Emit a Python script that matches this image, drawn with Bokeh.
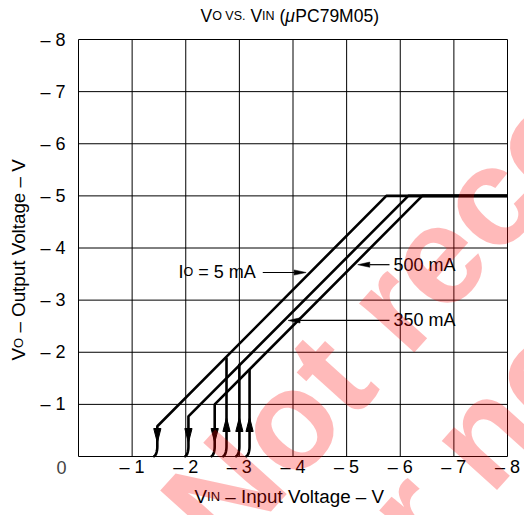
import math
import numpy as np
from bokeh.plotting import figure
from bokeh.models import Range1d, FixedTicker, Label
from bokeh.embed import file_html
from bokeh.resources import INLINE

# ---------------- data ----------------
load_currents = ["5 mA", "350 mA", "500 mA"]
vo_regulated = -5.0
vin_axis_end = -8.0
vin_saturation = [-5.74, -6.15, -6.41]   # Vin where Vo reaches -5 V
vin_dropout = [-1.47, -2.05, -2.54]      # Vin where output collapses (Vin decreasing)
vo_dropout = [-0.58, -0.77, -1.00]
vin_recover = [-2.76, -3.00, -3.19]      # Vin where output recovers (Vin increasing)
vo_recover = [-1.90, -1.78, -1.67]
callout_vo = [-3.53, -2.61, -3.68]       # Vo level where each callout arrow points
x_ticks = [-1, -2, -3, -4, -5, -6, -7, -8]
y_ticks = [-1, -2, -3, -4, -5, -6, -7, -8]
x_tick_labels = ["– 1", "– 2", "– 3", "– 4", "– 5", "– 6", "– 7", "– 8"]
y_tick_labels = ["– 1", "– 2", "– 3", "– 4", "– 5", "– 6", "– 7", "– 8"]

# ---------------- layout (canvas pixels) ----------------
W, H = 524, 515
FRAME_L, FRAME_T, FRAME_W, FRAME_H = 78, 39, 429, 417
X0, X1 = 0.0, -8.0
Y0, Y1 = 0.0, -8.0
PX_X = FRAME_W / abs(X1 - X0)
PX_Y = FRAME_H / abs(Y1 - Y0)
FONT = "Liberation Sans"
BASE_FIX = 7  # label baseline correction, px


def data_x(px):
    return X0 + (px - FRAME_L) / FRAME_W * (X1 - X0)


def data_y(py):
    return Y0 + (FRAME_T + FRAME_H - py) / FRAME_H * (Y1 - Y0)


p = figure(width=W, height=H, min_border=0, title=None,
           x_range=Range1d(data_x(0), data_x(W)), y_range=Range1d(data_y(H), data_y(0)),
           output_backend="svg", toolbar_location=None, tools="")
p.background_fill_color = "white"
p.border_fill_color = "white"
p.outline_line_color = None
p.grid.visible = False

for ax, ticks, labels in ((p.xaxis, x_ticks, x_tick_labels), (p.yaxis, y_ticks, y_tick_labels)):
    ax.fixed_location = 0
    ax.ticker = FixedTicker(ticks=ticks)
    ax.major_label_overrides = dict(zip(ticks, labels))
    ax.axis_line_color = None
    ax.major_tick_line_color = None
    ax.minor_tick_line_color = None
    ax.major_tick_out = 0
    ax.major_tick_in = 0
    ax.major_label_text_font = FONT
    ax.major_label_text_font_size = "18px"
    ax.major_label_text_color = "black"
p.xaxis.major_label_standoff = 0
p.yaxis.major_label_standoff = 13

# frame box and grid
p.quad(left=[X0], right=[X1], bottom=[Y0], top=[Y1], fill_color=None,
       line_color="black", line_width=1)
gx = x_ticks[:-1]
gy = y_ticks[:-1]
p.segment(x0=gx, y0=[Y0] * len(gx), x1=gx, y1=[Y1] * len(gx), line_color="black", line_width=1)
p.segment(x0=[X0] * len(gy), y0=gy, x1=[X1] * len(gy), y1=gy, line_color="black", line_width=1)

# ---------------- curves ----------------
HOOK_W, HOOK_H = 4 / PX_X, 10 / PX_Y
hook_t = np.linspace(0, np.pi / 2, 9)


def hook(x0):
    hx = x0 + HOOK_W * (1 - np.cos(hook_t))
    hy = -HOOK_H * (1 - np.sin(hook_t))
    return list(hx), list(hy)


xs, ys = [], []
for i in range(len(load_currents)):
    hx, hy = hook(vin_dropout[i])
    xs.append([vin_axis_end, vin_saturation[i], vin_dropout[i]] + hx)
    ys.append([vo_regulated, vo_regulated, vo_dropout[i]] + hy)
    hx, hy = hook(vin_recover[i])
    xs.append(hx[::-1] + [vin_recover[i]])
    ys.append(hy[::-1] + [vo_recover[i]])
p.multi_line(xs, ys, line_color="black", line_width=2.6)

# flow arrowheads
HEAD_LEN, HEAD_HW = 14 / PX_Y, 3.6 / PX_X
down_tip = data_y(FRAME_T + FRAME_H - 14)
up_tip = data_y(FRAME_T + FRAME_H - 39)
hx_list, hy_list = [], []
for i in range(len(load_currents)):
    x = vin_dropout[i]
    hx_list.append([x, x - HEAD_HW, x + HEAD_HW])
    hy_list.append([down_tip, down_tip - HEAD_LEN, down_tip - HEAD_LEN])
    x = vin_recover[i]
    hx_list.append([x, x - HEAD_HW, x + HEAD_HW])
    hy_list.append([up_tip, up_tip + HEAD_LEN, up_tip + HEAD_LEN])
p.patches(hx_list, hy_list, fill_color="black", line_color="black", line_width=1)

# ---------------- text helpers ----------------
WIDTHS = {' ': 278, '(': 333, ')': 333, '.': 278, '=': 584, 'A': 667, 'C': 722, 'I': 278,
          'M': 833, 'N': 722, 'O': 778, 'P': 667, 'S': 667, 'V': 667, 'a': 556, 'e': 556,
          'g': 556, 'l': 222, 'm': 833, 'n': 556, 'o': 556, 'p': 556, 't': 278, 'u': 556,
          '–': 556, 'μ': 576}


def tw(s, size):
    return sum(WIDTHS.get(c, 556) for c in s) * size / 1000.0


def pieces(parts, px, py, vertical=False):
    pos = 0.0
    for part in parts:
        txt, size = part[0], part[1]
        style = part[2] if len(part) > 2 else "normal"
        lead = len(txt) - len(txt.lstrip(" "))
        pos += tw(" " * lead, size)
        body = txt.lstrip(" ")
        if vertical:
            lab = Label(x=data_x(px - BASE_FIX), y=data_y(py - pos), angle=math.pi / 2)
        else:
            lab = Label(x=data_x(px + pos), y=data_y(py - BASE_FIX))
        lab.text = body
        lab.text_font = FONT
        lab.text_font_size = f"{size}px"
        lab.text_font_style = style
        lab.text_color = "black"
        lab.text_align = "left"
        lab.text_baseline = "alphabetic"
        p.add_layout(lab)
        pos += tw(body, size)
    return pos


BIG, SMALL = 18, 12.5
AX_BIG, AX_SMALL = 18.8, 13
# title
pieces([("V", 17.5), ("O", SMALL), (" VS.", SMALL), (" V", 17.5), ("IN", SMALL),
        (" (", 17.5), ("μ", 17.5, "italic"), ("PC79M05)", 17.5)], 200, 22)
# axis titles
pieces([("V", AX_BIG), ("IN", AX_SMALL), (" – Input Voltage – V", AX_BIG)], 194, 503)
pieces([("V", AX_BIG), ("O", AX_SMALL), (" – Output Voltage – V", AX_BIG)], 25, 360, vertical=True)
# origin label
p.add_layout(Label(x=data_x(61), y=data_y(474 - BASE_FIX), text="0", text_font=FONT,
                   text_font_size="18px", text_align="center", text_baseline="alphabetic"))

# callouts
w5 = pieces([("I", BIG), ("O", SMALL), (" = 5 mA", BIG)], 178, 278)
pieces([(load_currents[2], BIG)], 393, 271)
pieces([(load_currents[1], BIG)], 393, 326)

GAP = 4 / PX_X
PTR_LEN, PTR_HW = 12 / PX_X, 2.6 / PX_Y


def line_x_at(i, vo):
    return float(np.interp(vo, [vo_regulated, vo_dropout[i]], [vin_saturation[i], vin_dropout[i]]))


callouts = [  # (curve index, tail canvas-x, arrow comes from the left?)
    (0, 178 + w5 + 7, True),
    (2, 389, False),
    (1, 389, False),
]
sx0, sy0, sx1, sy1 = [], [], [], []
ph_x, ph_y = [], []
for i, tail_px, from_left in callouts:
    vo = callout_vo[i]
    lx = line_x_at(i, vo)
    tip = lx + GAP if from_left else lx - GAP
    d = PTR_LEN if from_left else -PTR_LEN
    sx0.append(data_x(tail_px)); sy0.append(vo); sx1.append(tip + d); sy1.append(vo)
    ph_x.append([tip, tip + d, tip + d]); ph_y.append([vo, vo - PTR_HW, vo + PTR_HW])
p.segment(sx0, sy0, sx1, sy1, line_color="black", line_width=1.2)
p.patches(ph_x, ph_y, fill_color="black", line_color="black", line_width=0.5)

# ---------------- watermark ----------------
for txt, (wx, wy) in (("Not recommended", (189, 529)), ("for new design", (303, 632))):
    p.add_layout(Label(x=data_x(wx), y=data_y(wy), text=txt, angle=math.radians(48),
                       text_font=FONT, text_font_style="bold", text_font_size="140px",
                       text_color="#ff0000", text_alpha=0.27, text_align="left",
                       text_baseline="alphabetic", level="overlay"))

open("out.html", "w").write(file_html(p, INLINE))
